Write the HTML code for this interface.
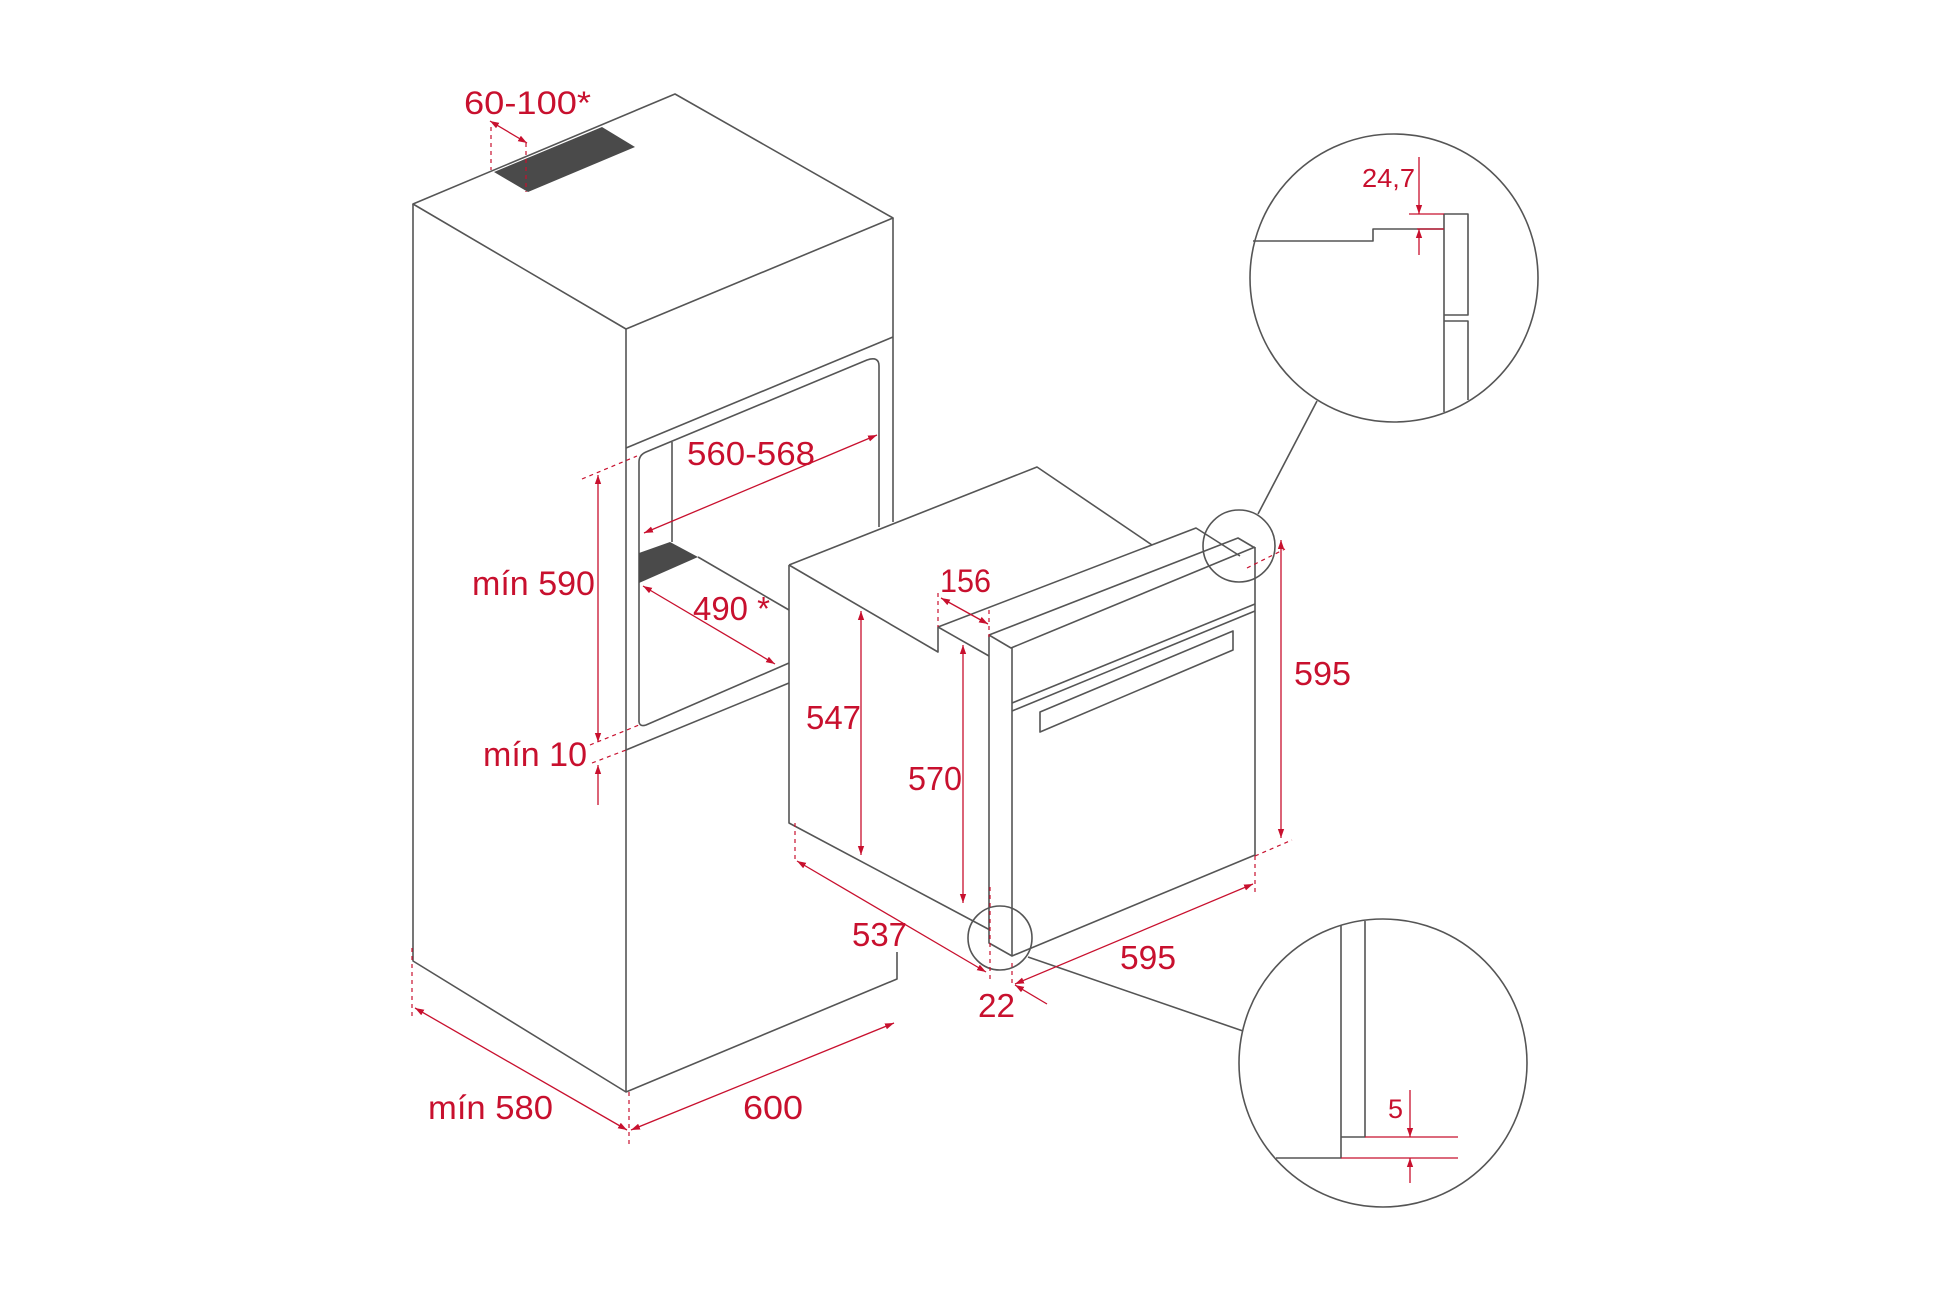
<!DOCTYPE html>
<html><head><meta charset="utf-8"><style>
html,body{margin:0;padding:0;background:#fff;}
svg{display:block}
.g{stroke:#555;stroke-width:1.6;fill:none;stroke-linejoin:round}
.r{stroke:#c8102e;stroke-width:1.3;fill:none}
.d{stroke:#c8102e;stroke-width:1.2;fill:none;stroke-dasharray:4 4}
text{fill:#c8102e;font-family:"Liberation Sans",sans-serif;}
</style></head><body>
<svg width="1946" height="1298" viewBox="0 0 1946 1298" xmlns="http://www.w3.org/2000/svg">
<defs>
<marker id="a" viewBox="0 0 10 10" refX="10" refY="5" markerWidth="9" markerHeight="9" orient="auto-start-reverse" markerUnits="userSpaceOnUse"><path d="M0,1.5 L10,5 L0,8.5 z" fill="#c8102e"/></marker>
</defs>
<rect width="1946" height="1298" fill="#fff"/>

<!-- Tall cabinet -->
<polygon points="494,172 602,127 635,147 528,192" fill="#4a4a4a"/>
<path class="g" d="M413,204 L675,94 L893,218 L626,329 Z"/>
<path class="g" d="M413,204 V961 L626,1092 L897,979 V952"/>
<path class="g" d="M626,329 V1092"/>
<path class="g" d="M893,218 V522"/>
<path class="g" d="M626,448 L893,337"/>
<path class="g" d="M639,722 V462 Q639,455 646,452 L867,360 Q879,356 879,366 V527"/>
<path class="g" d="M672,442 V542"/>
<polygon points="639,553 670,542 698,557 639,583" fill="#4a4a4a"/>
<path class="g" d="M698,557 L789,610"/>
<path class="g" d="M639,722 Q640,727 646,725 L789,663"/>
<path class="g" d="M626,750 L789,683"/>

<!-- Oven -->
<path class="g" d="M789,565 L1037,467 L1152,545"/>
<path class="g" d="M789,565 V823 L990,930"/>
<path class="g" d="M789,565 L938,652 V627 L1196,528 L1240,556"/>
<path class="g" d="M938,627 L989,656"/>
<path class="g" d="M989,635 L1238,538 L1255,548"/>
<path class="g" d="M989,635 L1011,648 L1255,547"/>
<path class="g" d="M989,635 V943 L1012,956 L1255,855 V547"/>
<path class="g" d="M1012,648 V956"/>
<path class="g" d="M1012,703 L1255,604"/>
<path class="g" d="M1012,711 L1255,611"/>
<path class="g" d="M1040,712 L1233,631 V650 L1040,732 Z"/>

<!-- small circles & connectors -->
<circle class="g" cx="1239" cy="546" r="36"/>
<circle class="g" cx="1000" cy="938" r="32"/>
<path class="g" d="M1258,514 L1317,401"/>
<path class="g" d="M1028,957 L1243,1031"/>

<!-- Top detail circle -->
<circle class="g" cx="1394" cy="278" r="144"/>
<path class="g" d="M1253,241 H1373 V229 H1444"/>
<path class="g" d="M1444,412 V214 H1468 V315 H1444"/>
<path class="g" d="M1444,321 H1468 V400"/>
<path class="r" d="M1409,214 H1444 M1417,229 H1444"/>
<path class="r" d="M1419,157 V214" marker-end="url(#a)"/>
<path class="r" d="M1419,255 V229" marker-end="url(#a)"/>
<text x="1362" y="187" font-size="26" textLength="53" lengthAdjust="spacingAndGlyphs">24,7</text>

<!-- Bottom detail circle -->
<circle class="g" cx="1383" cy="1063" r="144"/>
<path class="g" d="M1341,925 V1158 H1276"/>
<path class="g" d="M1365,921 V1137 H1341"/>
<path class="r" d="M1365,1137 H1458 M1341,1158 H1458"/>
<path class="r" d="M1410,1090 V1137" marker-end="url(#a)"/>
<path class="r" d="M1410,1183 V1158" marker-end="url(#a)"/>
<text x="1388" y="1118" font-size="27" textLength="15" lengthAdjust="spacingAndGlyphs">5</text>

<!-- Dimensions: cabinet -->
<path class="d" d="M491,127 V170 M526,143 V192"/>
<path class="r" d="M490,121 L527,143" marker-start="url(#a)" marker-end="url(#a)"/>
<text x="464" y="114" font-size="32" font-family="DejaVu Sans Mono" textLength="127" lengthAdjust="spacingAndGlyphs">60-100*</text>

<path class="r" d="M644,533 L877,435" marker-start="url(#a)" marker-end="url(#a)"/>
<text x="687" y="465" font-size="33" textLength="128" lengthAdjust="spacingAndGlyphs">560-568</text>

<path class="d" d="M582,479 L637,456"/>
<path class="r" d="M598,742 V475" marker-start="url(#a)" marker-end="url(#a)"/>
<text x="472" y="595" font-size="34" textLength="123" lengthAdjust="spacingAndGlyphs">mín 590</text>

<path class="d" d="M590,745 L639,725 M592,763 L626,750"/>
<path class="r" d="M598,805 V765" marker-end="url(#a)"/>
<text x="483" y="766" font-size="34" textLength="104" lengthAdjust="spacingAndGlyphs">mín 10</text>

<path class="r" d="M643,586 L775,664" marker-start="url(#a)" marker-end="url(#a)"/>
<text x="693" y="620" font-size="33" textLength="77" lengthAdjust="spacingAndGlyphs">490 *</text>

<path class="d" d="M412,948 V1017 M629,1092 V1148"/>
<path class="r" d="M415,1008 L627,1130" marker-start="url(#a)" marker-end="url(#a)"/>
<path class="r" d="M631,1130 L894,1023" marker-start="url(#a)" marker-end="url(#a)"/>
<text x="428" y="1119" font-size="33" textLength="125" lengthAdjust="spacingAndGlyphs">mín 580</text>
<text x="743" y="1119" font-size="33" textLength="60" lengthAdjust="spacingAndGlyphs">600</text>

<!-- Dimensions: oven -->
<path class="r" d="M861,855 V611" marker-start="url(#a)" marker-end="url(#a)"/>
<text x="806" y="729" font-size="33" textLength="55" lengthAdjust="spacingAndGlyphs">547</text>

<path class="d" d="M938,593 V627 M989,610 V637"/>
<path class="r" d="M941,598 L988,624" marker-start="url(#a)" marker-end="url(#a)"/>
<text x="940" y="592" font-size="32" textLength="51" lengthAdjust="spacingAndGlyphs">156</text>

<path class="r" d="M963,903 V645" marker-start="url(#a)" marker-end="url(#a)"/>
<text x="908" y="790" font-size="33" textLength="54" lengthAdjust="spacingAndGlyphs">570</text>

<path class="d" d="M1247,568 L1285,549 M1255,856 L1292,840 M1255,856 V893"/>
<path class="r" d="M1281,838 V540" marker-start="url(#a)" marker-end="url(#a)"/>
<text x="1294" y="685" font-size="33" textLength="57" lengthAdjust="spacingAndGlyphs">595</text>

<path class="d" d="M795,823 V861 M990,887 V980 M1012,963 V983"/>
<path class="r" d="M797,861 L986,972" marker-start="url(#a)" marker-end="url(#a)"/>
<text x="852" y="946" font-size="33" textLength="55" lengthAdjust="spacingAndGlyphs">537</text>

<path class="r" d="M1015,984 L1253,884" marker-start="url(#a)" marker-end="url(#a)"/>
<text x="1120" y="969" font-size="33" textLength="56" lengthAdjust="spacingAndGlyphs">595</text>

<path class="r" d="M1047,1004 L1015,985" marker-end="url(#a)"/>
<text x="978" y="1017" font-size="33" textLength="37" lengthAdjust="spacingAndGlyphs">22</text>
</svg>
</body></html>
